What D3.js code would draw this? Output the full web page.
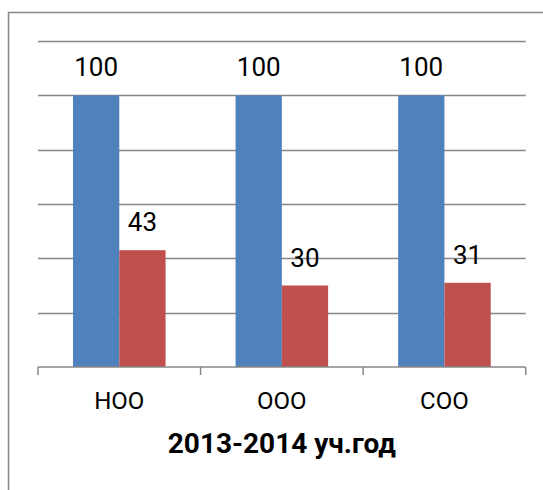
<!DOCTYPE html>
<html><head><meta charset="utf-8">
<script src="https://cdn.jsdelivr.net/npm/d3@7"></script>
<style>html,body{margin:0;padding:0;background:#fff;}svg{display:block;}</style>
</head><body>
<script>
const categories = ["НОО", "ООО", "СОО"];
const seriesNames = ["Ряд1", "Ряд2"];
const series1 = [100, 100, 100];
const series2 = [43, 30, 31];
const yTicks = [0, 20, 40, 60, 80, 100, 120];
const title = "2013-2014 уч.год";

(function () {
const W = 543, H = 490;
const svg = d3.select("body").append("svg").attr("width", W).attr("height", H);
const gray = "#878787";
const font = "Roboto, 'Open Sans', sans-serif";

svg.append("rect").attr("x", 8.5).attr("y", 12.5).attr("width", W).attr("height", H)
  .attr("fill", "none").attr("stroke", gray).attr("stroke-width", 1.5);

const pLeft = 38, pRight = 525.7, pTop = 41, pBottom = 367;
const x0 = d3.scaleBand().domain(categories).range([pLeft, pRight]).padding(0);
const x1 = d3.scaleBand().domain(seriesNames).range([0, x0.bandwidth()]).paddingInner(0).paddingOuter(0.756);
const y = d3.scaleLinear().domain([0, 120]).range([pBottom, pTop]);
const colors = d3.scaleOrdinal().domain(seriesNames).range(["#4F81BD", "#C0504D"]);

svg.append("g").selectAll("line").data(yTicks.filter(t => t > 0)).join("line")
  .attr("x1", pLeft).attr("x2", pRight)
  .attr("y1", d => Math.round(y(d)) + 0.5).attr("y2", d => Math.round(y(d)) + 0.5)
  .attr("stroke", gray).attr("stroke-width", 1.5);

const data = categories.map((c, i) => ({cat: c, vals: [
  {s: seriesNames[0], v: series1[i]}, {s: seriesNames[1], v: series2[i]}]}));

const g = svg.append("g").selectAll("g").data(data).join("g")
  .attr("transform", d => `translate(${x0(d.cat)},0)`);
g.selectAll("rect").data(d => d.vals).join("rect")
  .attr("x", d => x1(d.s)).attr("width", x1.bandwidth())
  .attr("y", d => y(d.v)).attr("height", d => y(0) - y(d.v))
  .attr("fill", d => colors(d.s));
g.selectAll("text").data(d => d.vals).join("text")
  .attr("x", d => x1(d.s) + x1.bandwidth() / 2).attr("y", d => y(d.v) - 19)
  .attr("text-anchor", "middle").attr("font-family", font).attr("font-size", 26)
  .attr("fill", "#000").text(d => d.v);

const ax = svg.append("g").attr("transform", `translate(0,${pBottom})`);
ax.append("line").attr("x1", pLeft).attr("x2", pRight).attr("y1", 0).attr("y2", 0)
  .attr("stroke", gray).attr("stroke-width", 1.5);
const bounds = categories.map(c => x0(c)).concat([x0(categories[categories.length - 1]) + x0.bandwidth()]);
ax.selectAll("line.tk").data(bounds).join("line").attr("class", "tk")
  .attr("x1", d => d).attr("x2", d => d).attr("y1", 0).attr("y2", 8)
  .attr("stroke", gray).attr("stroke-width", 1.5);
ax.selectAll("text.cl").data(categories).join("text").attr("class", "cl")
  .attr("x", d => x0(d) + x0.bandwidth() / 2).attr("y", 42)
  .attr("text-anchor", "middle").attr("font-family", font).attr("font-size", 24)
  .attr("fill", "#000").text(d => d);

svg.append("text").attr("x", (pLeft + pRight) / 2).attr("y", 453)
  .attr("text-anchor", "middle").attr("font-family", font).attr("font-size", 28)
  .attr("font-weight", "bold").attr("fill", "#000").text(title);
})();
</script>
</body></html>
